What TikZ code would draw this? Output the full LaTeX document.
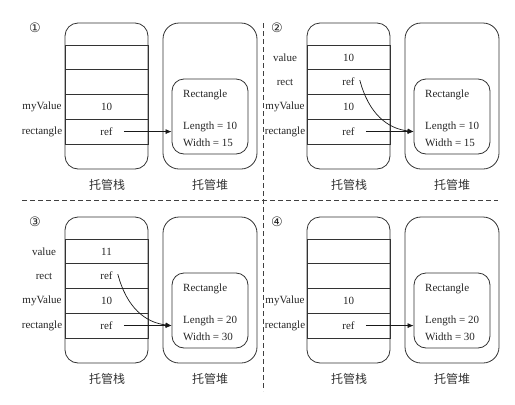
\documentclass[tikz,border=0pt]{standalone}
\usepackage{fontspec}
\setmainfont{Liberation Serif}
\newfontfamily\cjkfont{Noto Sans CJK SC}
\newfontfamily\symfont{DejaVu Sans}
\usetikzlibrary{arrows.meta}
\newcommand{\panelframe}[3]{%
  \node[stackbox] (stack) at (106.5,96) {};
  \node[cell] (c1) at (106.5,57.4) {};
  \node[cell] (c2) at (106.5,82.1) {};
  \node[cell] (c3) at (106.5,106.9) {};
  \node[cell] (c4) at (106.5,131.6) {};
  \node[heapbox] (heap) at (210,96) {};
  \node[objbox] (obj) at (210,116.5) {};
  \node[txt, anchor=west] (oname) at (183,95) {Rectangle};
  \node[txt, anchor=west] (olen) at (183,127) {Length = #2};
  \node[txt, anchor=west] (owid) at (183,143) {Width = #3};
  \node[numtag] (tag) at (35,28) {#1};
  \node[caption] (cap1) at (107,185) {托管栈};
  \node[caption] (cap2) at (210,185) {托管堆};
}
\begin{document}
\begin{tikzpicture}[x=1pt,y=-1pt,
  txt/.style={font=\fontsize{11}{13}\selectfont, text=black!85, inner sep=0pt},
  lbl/.style={txt, anchor=center},
  numtag/.style={font=\symfont\fontsize{13}{15}\selectfont, text=black!85, inner sep=0pt},
  caption/.style={font=\cjkfont\fontsize{12}{14}\selectfont, text=black!80, inner sep=0pt},
  stackbox/.style={draw=black!80, line width=0.8pt, rounded corners=13pt, minimum width=83pt, minimum height=146pt, inner sep=0pt},
  heapbox/.style={draw=black!80, line width=0.8pt, rounded corners=16pt, minimum width=94pt, minimum height=146pt, inner sep=0pt},
  objbox/.style={draw=black!80, line width=0.8pt, rounded corners=12pt, minimum width=76pt, minimum height=75pt, inner sep=0pt},
  cell/.style={draw=black!80, line width=0.8pt, minimum width=83pt, minimum height=24.75pt, inner sep=0pt},
  ptr/.style={draw=black!90, line width=0.7pt, -{Latex[length=6pt,width=5pt]}},
  divider/.style={draw=black!75, line width=0.8pt, dash pattern=on 5pt off 3pt}
]
\useasboundingbox (0,0) rectangle (515,405);
\fill[white] (0,0) rectangle (515,405);

% dividers
\coordinate (hl) at (22,200.5);
\coordinate (hr) at (498,200.5);
\coordinate (vt) at (263,23);
\coordinate (vb) at (263,391);
\draw[divider] (hl) -- (hr);
\draw[divider] (vt) -- (vb);

% Panel 1
\begin{scope}[name prefix=p1-]
  \panelframe{①}{10}{15}
  \node[lbl] (l3) at (42,106.9) {myValue};
  \node[lbl] (l4) at (42,131.6) {rectangle};
  \node[lbl] (v3) at (c3) {10};
  \node[lbl] (v4) at (c4) {ref};
  \coordinate (s4) at ([xshift=11pt]v4.east);
  \draw[ptr] (s4) -- (obj.west |- s4);
\end{scope}

% Panel 2
\begin{scope}[shift={(242,0)}, name prefix=p2-]
  \panelframe{②}{10}{15}
  \node[lbl] (l1) at (43,57.4) {value};
  \node[lbl] (l2) at (43,82.1) {rect};
  \node[lbl] (l3) at (43,106.9) {myValue};
  \node[lbl] (l4) at (43,131.6) {rectangle};
  \node[lbl] (v1) at (c1) {10};
  \node[lbl] (v2) at (c2) {ref};
  \node[lbl] (v3) at (c3) {10};
  \node[lbl] (v4) at (c4) {ref};
  \coordinate (s4) at ([xshift=11pt]v4.east);
  \coordinate (s2) at ([xshift=5pt,yshift=2pt]v2.east);
  \coordinate (t2) at (obj.west |- s4);
  \draw[ptr] (s4) -- (t2);
  \draw[ptr] (s2) .. controls ([xshift=9pt,yshift=-34pt]s2) and ([xshift=-26pt,yshift=3pt]t2) .. (t2);
\end{scope}

% Panel 3
\begin{scope}[shift={(0,194)}, name prefix=p3-]
  \panelframe{③}{20}{30}
  \node[lbl] (l1) at (44,57.4) {value};
  \node[lbl] (l2) at (44,82.1) {rect};
  \node[lbl] (l3) at (42,106.9) {myValue};
  \node[lbl] (l4) at (42,131.6) {rectangle};
  \node[lbl] (v1) at (c1) {11};
  \node[lbl] (v2) at (c2) {ref};
  \node[lbl] (v3) at (c3) {10};
  \node[lbl] (v4) at (c4) {ref};
  \coordinate (s4) at ([xshift=11pt]v4.east);
  \coordinate (s2) at ([xshift=5pt,yshift=2pt]v2.east);
  \coordinate (t2) at (obj.west |- s4);
  \draw[ptr] (s4) -- (t2);
  \draw[ptr] (s2) .. controls ([xshift=9pt,yshift=-34pt]s2) and ([xshift=-26pt,yshift=3pt]t2) .. (t2);
\end{scope}

% Panel 4
\begin{scope}[shift={(242,194)}, name prefix=p4-]
  \panelframe{④}{20}{30}
  \node[lbl] (l3) at (43,106.9) {myValue};
  \node[lbl] (l4) at (43,131.6) {rectangle};
  \node[lbl] (v3) at (c3) {10};
  \node[lbl] (v4) at (c4) {ref};
  \coordinate (s4) at ([xshift=11pt]v4.east);
  \draw[ptr] (s4) -- (obj.west |- s4);
\end{scope}
\end{tikzpicture}
\end{document}
